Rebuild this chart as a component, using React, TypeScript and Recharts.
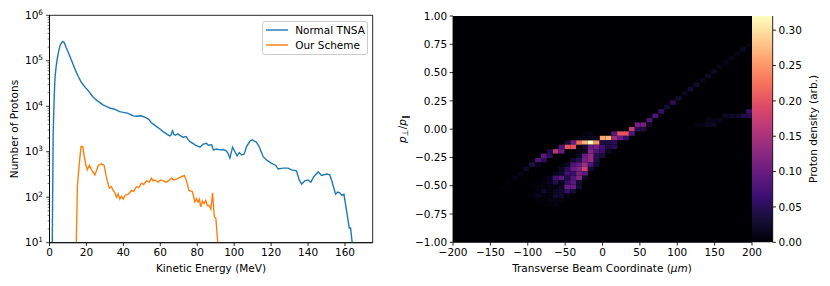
import React from "react";
import { LineChart, Line, XAxis, YAxis, ScatterChart, Scatter, ReferenceArea, ComposedChart, Legend } from "recharts";

const FONT = "'DejaVu Sans', sans-serif";
const FS = 10.5;

const normalEnergy = [1.5,2,2.5,3,3.6,4.2,5,5.7,6.5,7.1,8,9,10.2,11.5,12.9,14.2,15.6,17,18.3,19.5,21,22.3,23.7,25.5,27.3,29,31,33,34.5,36,38,40,42.7,44,45.4,47,49,50,51.5,52.6,54,55,56,58,59.8,61.5,63.4,65,65.7,66.6,67.3,68,69.5,70.5,72.4,73.9,75,76,77.5,78.7,80,81.5,83,85,86,87.8,88.7,90.5,92.2,94,95.5,96.5,97.7,99.1,100.4,101.6,102.7,104,105.4,106.7,108.5,109.8,112,113.5,115.7,117.5,120,122.5,123.8,126.5,129.2,131,133.7,135.2,136.6,138.2,140,141.5,143.1,145.5,147.3,150,151.8,153,154.9,156,157.3,158.3,159.4,160.8,162.3,163,163.9];
const normalCounts = [10,2570,13800,45000,75000,112000,165000,215000,250000,265000,250000,195000,152000,112000,81000,60000,45000,34700,29400,25700,22000,18600,15800,13600,12000,10700,9800,9050,8800,8300,7600,7350,7000,6500,6150,6050,6200,6100,5750,5500,5050,4400,4100,3560,3160,2770,2470,2230,2300,2880,2420,2300,2470,2300,2090,2150,1870,1660,1540,1420,1350,1260,1460,1540,1390,1420,1100,1150,1100,1120,1060,950,725,1260,1000,810,960,850,890,1300,1700,1820,1620,1300,780,660,560,500,417,437,437,398,380,240,195,229,240,214,282,363,302,324,309,219,117,130,123,110,117,52,21,21,10];

const schemeEnergy = [14.5,15.1,15.6,16.5,17.1,18,18.7,19.7,20.5,21.6,22.8,24.6,26.4,28.2,29.6,30.9,32.4,33.5,34.5,35.4,36.3,37.2,38.1,39,39.9,41,42.7,44.4,45.6,47.1,48.4,49.8,51,52.5,54,55.2,56,57,58.8,60,61.6,63,64.3,66.1,67.4,68.8,70,71.5,73,74.2,75.5,77.4,78.7,79.6,80.5,81.2,81.9,82.8,83.7,84.6,85.5,86.4,87.4,88.3,89.2,90.1,91.1];
const schemeCounts = [10,170,309,780,1300,1300,850,510,400,500,400,309,500,540,500,263,158,170,141,125,100,118,91,105,91,110,117,141,135,170,165,204,190,229,215,263,230,240,214,240,229,215,229,263,240,251,265,282,302,229,141,132,79,92,78,90,61,82,72,85,65,66,55,125,38,34,10];

const energyTicks = [0,20,40,60,80,100,120,140,160];
const decadeTicks = [10,100,1000,10000,100000,1000000];
const allLogTicks = decadeTicks.flatMap((d, k) =>
  k === decadeTicks.length - 1 ? [d] : [d, d*2, d*3, d*4, d*5, d*6, d*7, d*8, d*9]);
const seriesNames = ["Normal TNSA", "Our Scheme"];
const seriesColors = ["#1f77b4", "#ff7f0e"];

const coordTicks = [-200,-150,-100,-50,0,50,100,150,200];
const angleTicks = [-1,-0.75,-0.5,-0.25,0,0.25,0.5,0.75,1];
const densityTicks = [0,0.05,0.1,0.15,0.2,0.25,0.3];
const DENSITY_MAX = 0.32;
const BINS = 51;

// [column, row, density] of the non-empty histogram bins
const heatCells: number[][] = [
  [21,22,.22],[22,22,.27],[23,22,.32],[24,22,.25],[25,23,.26],[26,23,.27],[27,23,.14],[27,24,.09],[28,24,.2],[29,24,.2],
  [28,23,.1],[29,23,.06],[30,25,.17],[30,24,.08],[31,26,.11],[32,26,.11],[31,25,.05],[32,25,.04],[33,27,.08],[34,28,.08],[33,26,.02],
  [20,22,.1],[19,22,.03],[19,21,.2],[20,21,.2],[18,21,.08],[17,20,.16],[16,20,.04],[18,20,.1],[15,19,.09],[16,19,.05],[14,18,.08],[15,18,.05],[13,17,.04],[14,17,.012],[12,16,.02],[11,15,.012],[10,14,.008],[9,13,.006],[8,12,.004],[6,11,.003],
  [21,23,.012],[22,23,.015],[23,23,.015],[24,23,.02],[22,24,.006],[23,24,.008],
  [22,21,.03],[23,21,.1],[24,21,.11],[25,21,.07],[26,21,.04],[27,21,.05],
  [25,22,.04],[26,22,.04],[27,22,.05],
  [21,20,.01],[22,20,.02],[23,20,.12],[24,20,.08],[25,20,.06],[26,20,.02],
  [21,19,.02],[22,19,.1],[23,19,.13],[24,19,.05],[25,19,.035],
  [20,18,.03],[21,18,.05],[22,18,.11],[23,18,.13],[24,18,.04],
  [19,17,.02],[20,17,.08],[21,17,.1],[22,17,.14],[23,17,.08],[24,17,.03],
  [18,16,.02],[19,16,.05],[20,16,.1],[21,16,.12],[22,16,.18],[23,16,.03],
  [17,15,.015],[18,15,.025],[19,15,.07],[20,15,.06],[21,15,.11],[22,15,.09],
  [15,14,.006],[16,14,.012],[17,14,.07],[18,14,.09],[19,14,.04],[20,14,.08],[21,14,.12],[22,14,.02],
  [14,13,.005],[15,13,.007],[16,13,.015],[17,13,.045],[18,13,.015],[19,13,.06],[20,13,.09],[21,13,.03],
  [13,12,.004],[14,12,.006],[15,12,.007],[16,12,.01],[17,12,.01],[18,12,.02],[19,12,.1],[20,12,.1],[21,12,.03],
  [14,11,.006],[15,11,.02],[16,11,.008],[17,11,.02],[18,11,.025],[19,11,.06],[20,11,.03],
  [13,10,.004],[14,10,.015],[15,10,.007],[16,10,.006],[17,10,.025],[18,10,.025],[19,10,.01],
  [14,9,.004],[15,9,.005],[16,9,.008],[17,9,.01],[18,9,.008],
  [15,8,.003],[16,8,.004],[17,8,.008],[17,7,.003],
  [35,29,.06],[36,30,.03],[37,31,.05],[38,32,.03],[39,33,.015],[40,34,.03],[41,35,.025],[42,36,.015],[43,37,.02],[44,38,.02],[45,39,.012],[46,40,.012],[47,41,.012],[48,42,.012],[49,43,.02],[50,44,.008],
  [50,29,.06],[49,28,.04],[50,28,.045],[48,28,.022],[47,28,.022],[46,28,.02],[45,27,.015],[44,27,.012],[43,27,.012],[44,26,.02],[43,26,.02],[42,26,.01],[41,26,.008],[40,25,.004],
];

const magmaStops = ["#000004","#140e36","#3b0f70","#641a80","#8c2981","#b73779","#de4968","#f7705c","#fe9f6d","#fecf92","#fcfdbf"];

function magma(v: number) {
  const t = Math.min(1, Math.max(0, v / DENSITY_MAX)) * 10;
  const k = Math.min(9, Math.floor(t));
  const f = t - k;
  const a = magmaStops[k], b = magmaStops[k + 1];
  const ch = (s: string, p: number) => parseInt(s.slice(p, p + 2), 16);
  const mix = (p: number) => Math.round(ch(a, p) * (1 - f) + ch(b, p) * f);
  return `rgb(${mix(1)},${mix(3)},${mix(5)})`;
}

const heatData = heatCells.map(([c, r, v]) => ({
  x: -200 + ((c + 0.5) * 400) / BINS,
  y: -1 + ((r + 0.5) * 2) / BINS,
  v,
}));

const normalData = normalEnergy.map((e, i) => ({ e, n: normalCounts[i] }));
const schemeData = schemeEnergy.map((e, i) => ({ e, n: schemeCounts[i] }));

const textStyle = { fontFamily: FONT, fontSize: FS, fill: "#000" };
const AXIS = { stroke: "#000", strokeWidth: 0.85 };

function LogTick(props: any) {
  const { x, y, payload } = props;
  const v = payload.value;
  const major = decadeTicks.includes(v);
  return (
    <g>
      <line x1={x} x2={x - (major ? 3.3 : 1.9)} y1={y} y2={y} stroke="#000" strokeWidth={major ? 0.8 : 0.55} />
      {major && (
        <text x={x - 6.5} y={y + 3.5} textAnchor="end" {...textStyle}>
          10<tspan dy={-4} fontSize={7.3}>{Math.round(Math.log10(v))}</tspan>
        </text>
      )}
    </g>
  );
}

function LegendBox() {
  return (
    <div style={{ boxSizing: "border-box", width: 106, height: 34, border: "1px solid #ccc", borderRadius: 3, background: "rgba(255,255,255,.8)", fontFamily: FONT, fontSize: FS, position: "relative" }}>
      {seriesNames.map((name, i) => (
        <div key={name} style={{ position: "absolute", left: 3, top: 1.5 + i * 14.7, height: 14, display: "flex", alignItems: "center", whiteSpace: "nowrap" }}>
          <svg width={22} height={4} style={{ marginRight: 7.5 }}>
            <line x1={0} x2={22} y1={2} y2={2} stroke={seriesColors[i]} strokeWidth={1.4} />
          </svg>
          {name}
        </div>
      ))}
    </div>
  );
}

const HeatCell = (props: any) => {
  const w = 299 / BINS, h = 226.6 / BINS;
  return <rect x={props.cx - w / 2} y={props.cy - h / 2} width={w} height={h} fill={magma(props.payload.v)} />;
};

export default function App() {
  const minus = (s: string) => s.replace("-", "\u2212");
  return (
    <div style={{ position: "absolute", left: 0, top: 0, width: 830, height: 286, background: "#fff", overflow: "hidden" }}>
      <div style={{ position: "absolute", left: 0, top: 0 }}>
        <LineChart width={380} height={286} margin={{ top: 15.3, right: 7.3, left: 0, bottom: 0 }}>
          <XAxis dataKey="e" type="number" domain={[0, 175]} ticks={energyTicks} allowDataOverflow height={43.3} tick={textStyle} tickSize={3.3} tickMargin={2.5} axisLine={AXIS} tickLine={AXIS} interval={0} />
          <YAxis dataKey="n" type="number" scale="log" domain={[10, 1000000]} allowDataOverflow ticks={allLogTicks} interval={0} width={49.5} tick={<LogTick />} tickSize={0} tickMargin={0} tickLine={false} axisLine={AXIS} />
          <ReferenceArea x1={0} x2={175} y1={10} y2={1000000} fill="none" stroke="#000" strokeWidth={0.85} />
          <Line data={normalData} dataKey="n" name={seriesNames[0]} stroke={seriesColors[0]} strokeWidth={1.4} dot={false} isAnimationActive={false} />
          <Line data={schemeData} dataKey="n" name={seriesNames[1]} stroke={seriesColors[1]} strokeWidth={1.4} dot={false} isAnimationActive={false} />
          <Legend layout="horizontal" verticalAlign="middle" align="center" wrapperStyle={{ left: 261.7, top: 20.5, width: 106, height: 34 }} content={() => <LegendBox />} />
          <text x={211} y={272} textAnchor="middle" {...textStyle}>Kinetic Energy (MeV)</text>
          <text transform="translate(18,129) rotate(-90)" textAnchor="middle" {...textStyle}>Number of Protons</text>
        </LineChart>
      </div>

      <div style={{ position: "absolute", left: 380, top: 0 }}>
        <ScatterChart width={450} height={286} margin={{ top: 16, right: 78, left: 0, bottom: 0 }}>
          <XAxis dataKey="x" type="number" domain={[-200, 200]} ticks={coordTicks} allowDataOverflow height={43.7} interval={0} tick={textStyle} tickSize={3.3} tickMargin={2.5} axisLine={AXIS} tickLine={AXIS} tickFormatter={(v: number) => minus(String(v))} />
          <YAxis dataKey="y" type="number" domain={[-1, 1]} ticks={angleTicks} allowDataOverflow width={73} interval={0} tick={textStyle} tickSize={3.3} tickMargin={2.5} axisLine={AXIS} tickLine={AXIS} tickFormatter={(v: number) => minus(v.toFixed(2))} />
          <ReferenceArea x1={-200} x2={200} y1={-1} y2={1} fill="#000004" fillOpacity={1} stroke="none" />
          <Scatter data={heatData} shape={<HeatCell />} isAnimationActive={false} />
          <text x={222} y={272} textAnchor="middle" {...textStyle}>
            Transverse Beam Coordinate (<tspan fontStyle="italic">μm</tspan>)
          </text>
          <text transform="translate(26,129) rotate(-90)" textAnchor="middle" {...textStyle}>
            <tspan fontStyle="italic">p</tspan><tspan fontSize={8} dy={2}>⊥</tspan><tspan dy={-2}>/</tspan><tspan fontStyle="italic">p</tspan><tspan fontSize={8} dy={2}>∥</tspan>
          </text>
        </ScatterChart>
      </div>

      <div style={{ position: "absolute", left: 752, top: 0 }}>
        <ComposedChart width={78} height={286} data={densityTicks.map((d) => ({ d }))} margin={{ top: 16, right: 0, left: 0, bottom: 43.7 }}>
          <defs>
            <linearGradient id="magmaBar" x1="0" y1="1" x2="0" y2="0">
              {magmaStops.map((c, i) => <stop key={c} offset={i / 10} stopColor={c} />)}
            </linearGradient>
          </defs>
          <XAxis height={0} hide />
          <YAxis orientation="right" dataKey="d" type="number" domain={[0, DENSITY_MAX]} ticks={densityTicks} allowDataOverflow width={57.3} interval={0} tick={textStyle} tickSize={3.3} tickMargin={2.5} axisLine={AXIS} tickLine={AXIS} tickFormatter={(v: number) => v.toFixed(2)} />
          <ReferenceArea y1={0} y2={DENSITY_MAX} fill="url(#magmaBar)" fillOpacity={1} stroke="none" />
          <text transform="translate(64.5,129) rotate(-90)" textAnchor="middle" {...textStyle}>Proton density (arb.)</text>
        </ComposedChart>
      </div>
    </div>
  );
}
